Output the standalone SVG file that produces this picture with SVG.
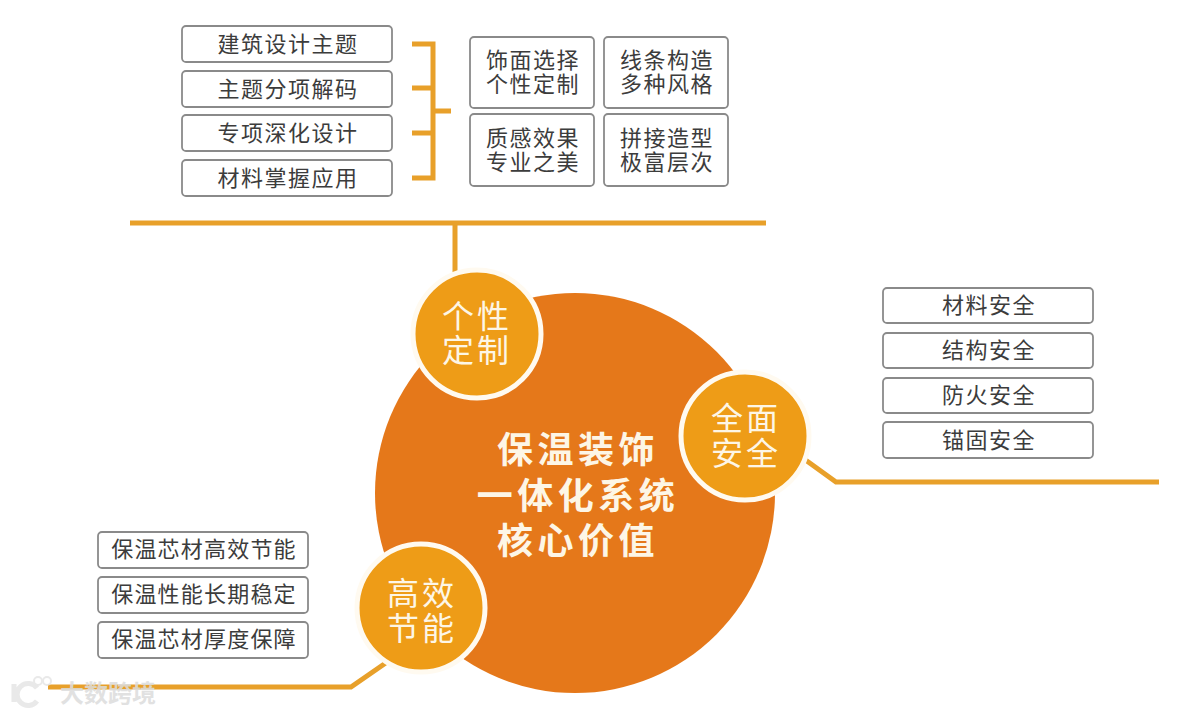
<svg xmlns="http://www.w3.org/2000/svg" width="1195" height="714" viewBox="0 0 1195 714">
<style>
text{font-family:"Noto Sans CJK SC","Noto Sans",sans-serif;text-anchor:middle}
.b{fill:#fff;stroke:#8a8a8a;stroke-width:1.8}
.t{font-size:22px;fill:#3c3c3c;letter-spacing:1.5px}
.c{fill:#ee9c17;stroke:#fffaf0;stroke-width:5}
.ct{font-size:32px;fill:#fdf6e6;letter-spacing:3px}
.l{fill:none;stroke:#e8a02a;stroke-width:5}
</style>
<rect width="1195" height="714" fill="#fff"/>
<g id="connectors">
<path class="l" d="M412 44H433V178H412M412 88H433M412 133H433M433 111H451"/>
<path class="l" d="M130 223H766M455 223V285"/>
<path class="l" d="M800 456L836 482H1159"/>
<path class="l" d="M48 687H351L390 660"/>
</g>
<g id="core"><circle cx="575" cy="493" r="200" fill="#e5781a"/>
<g font-size="36" font-weight="700" fill="#fdf6e6" letter-spacing="4.5"><text x="578" y="463">保温装饰</text><text x="578" y="509">一体化系统</text><text x="578" y="554">核心价值</text></g></g>
<g id="node-gexing"><circle class="c" cx="477" cy="334" r="64"/><text class="ct" x="477" y="328">个性</text><text class="ct" x="477" y="362">定制</text></g>
<g id="node-anquan"><circle class="c" cx="745" cy="436" r="64"/><text class="ct" x="746" y="430">全面</text><text class="ct" x="746" y="465">安全</text></g>
<g id="node-jieneng"><circle class="c" cx="421" cy="608" r="64"/><text class="ct" x="422" y="605">高效</text><text class="ct" x="422" y="640">节能</text></g>
<g id="box-1"><rect class="b" x="182" y="26" width="210" height="36" rx="4"/><text class="t" x="288" y="52">建筑设计主题</text></g>
<g id="box-2"><rect class="b" x="182" y="71" width="210" height="36" rx="4"/><text class="t" x="288" y="97">主题分项解码</text></g>
<g id="box-3"><rect class="b" x="182" y="115" width="210" height="36" rx="4"/><text class="t" x="288" y="141">专项深化设计</text></g>
<g id="box-4"><rect class="b" x="182" y="160" width="210" height="36" rx="4"/><text class="t" x="288" y="186">材料掌握应用</text></g>
<g id="grid-1"><rect class="b" x="470" y="37" width="124" height="71" rx="4"/><text class="t" x="533" y="68">饰面选择</text><text class="t" x="533" y="92">个性定制</text></g>
<g id="grid-2"><rect class="b" x="604" y="37" width="124" height="71" rx="4"/><text class="t" x="667" y="68">线条构造</text><text class="t" x="667" y="92">多种风格</text></g>
<g id="grid-3"><rect class="b" x="470" y="114" width="124" height="72" rx="4"/><text class="t" x="533" y="146">质感效果</text><text class="t" x="533" y="170">专业之美</text></g>
<g id="grid-4"><rect class="b" x="604" y="114" width="124" height="72" rx="4"/><text class="t" x="667" y="146">拼接造型</text><text class="t" x="667" y="170">极富层次</text></g>
<g id="safe-1"><rect class="b" x="883" y="288" width="210" height="35" rx="4"/><text class="t" x="989" y="313">材料安全</text></g>
<g id="safe-2"><rect class="b" x="883" y="333" width="210" height="35" rx="4"/><text class="t" x="989" y="358">结构安全</text></g>
<g id="safe-3"><rect class="b" x="883" y="378" width="210" height="35" rx="4"/><text class="t" x="989" y="403">防火安全</text></g>
<g id="safe-4"><rect class="b" x="883" y="422" width="210" height="36" rx="4"/><text class="t" x="989" y="448">锚固安全</text></g>
<g id="save-1"><rect class="b" x="98" y="532" width="210" height="36" rx="4"/><text class="t" x="204" y="557" style="letter-spacing:1.2px">保温芯材高效节能</text></g>
<g id="save-2"><rect class="b" x="98" y="577" width="210" height="36" rx="4"/><text class="t" x="204" y="602" style="letter-spacing:1.2px">保温性能长期稳定</text></g>
<g id="save-3"><rect class="b" x="98" y="622" width="210" height="36" rx="4"/><text class="t" x="204" y="647" style="letter-spacing:1.2px">保温芯材厚度保障</text></g>
<g id="watermark" opacity=".85"><path d="M14 684V702M37 688A11 11 0 1 0 37 701" fill="none" stroke="#e6e6e6" stroke-width="5"/><circle cx="38" cy="681" r="4" fill="none" stroke="#e6e6e6" stroke-width="2"/><circle cx="47" cy="681" r="4" fill="none" stroke="#e6e6e6" stroke-width="2"/><text x="108" y="702" font-size="24" font-weight="700" fill="#dcdcdc">大数跨境</text></g>
</svg>
